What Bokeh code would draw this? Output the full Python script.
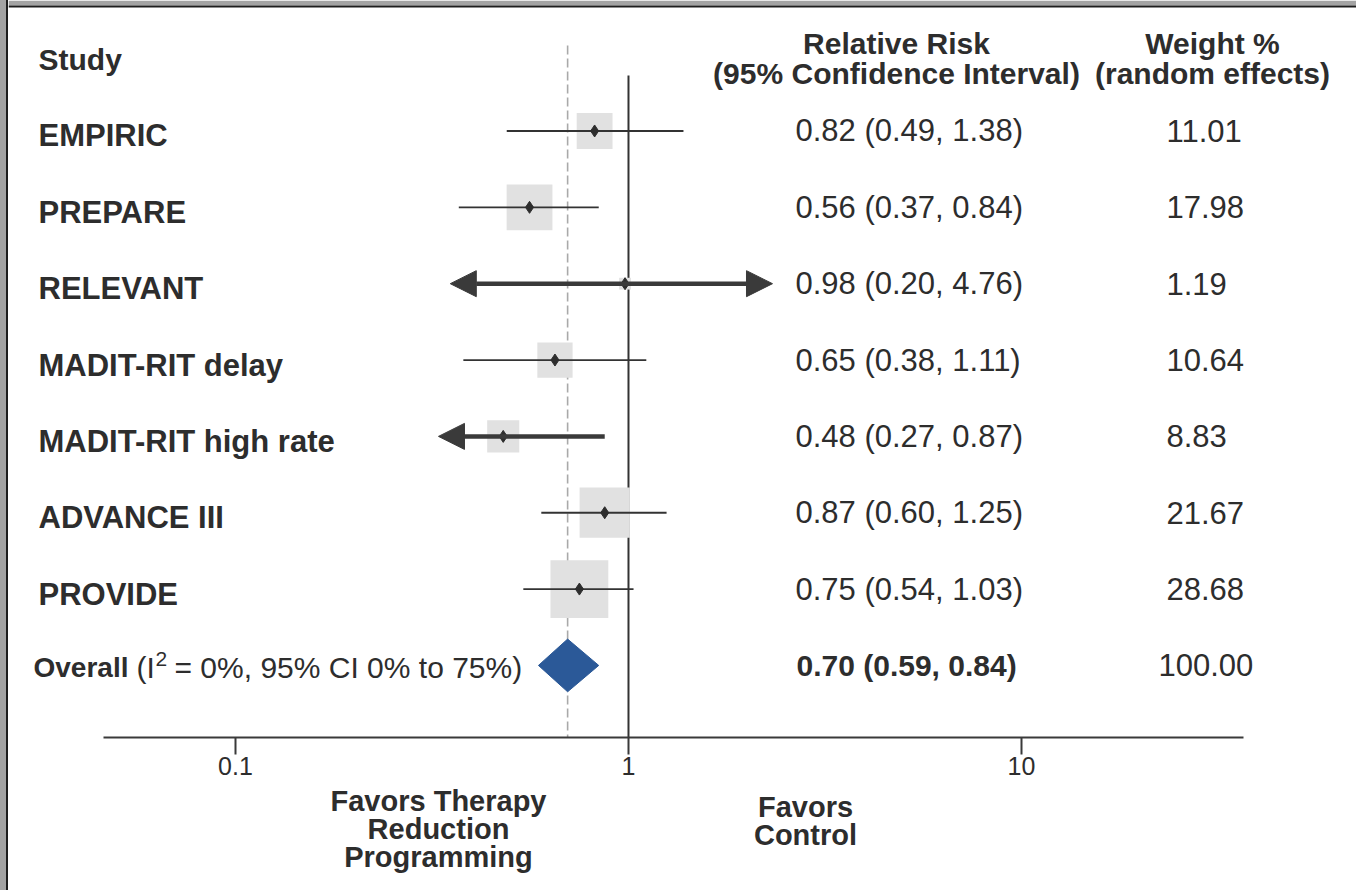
import numpy as np
from bokeh.plotting import figure
from bokeh.layouts import row, column
from bokeh.models import (Range1d, LinearScale, FixedTicker, CustomJSTickFormatter,
                          Arrow, NormalHead, BoxAnnotation, Div)
from bokeh.core.properties import value
from bokeh.embed import file_html
from bokeh.resources import INLINE

# ---------------- data ----------------
studies = ["EMPIRIC", "PREPARE", "RELEVANT", "MADIT-RIT delay",
           "MADIT-RIT high rate", "ADVANCE III", "PROVIDE"]
rr = [0.82, 0.56, 0.98, 0.65, 0.48, 0.87, 0.75]
ci_lo = [0.49, 0.37, 0.20, 0.38, 0.27, 0.60, 0.54]
ci_hi = [1.38, 0.84, 4.76, 1.11, 0.87, 1.25, 1.03]
weights = [11.01, 17.98, 1.19, 10.64, 8.83, 21.67, 28.68]
# drawn extent of each interval (arrow tips where the interval runs off the plotted scale)
shown_lo = [0.49, 0.37, 0.352, 0.38, 0.3285, 0.60, 0.54]
shown_hi = [1.38, 0.84, 2.325, 1.11, 0.87, 1.25, 1.03]

overall_rr = 0.70
overall_lo = 0.59
overall_hi = 0.84
overall_weight = 100.00
overall_name = "Overall"
overall_het = ["(I", "2", "= 0%, 95% CI 0% to 75%)"]

tick_values = [0.1, 1, 10]
axis_bounds = (0.0461, 36.7)
favors_left = ["Favors Therapy", "Reduction", "Programming"]
favors_right = ["Favors", "Control"]

FONT = "Liberation Sans"
INK = "#2d2d2d"

W = 1348          # figure width (page width minus the left frame strip)
FRAME_H = 737     # height of the plotting frame
AXIS_H = 46       # band holding the axis
TOP_H = FRAME_H + AXIS_H
BOT_H = 890 - TOP_H

# ---------------- main figure ----------------
p = figure(width=W, height=TOP_H, x_axis_type="log",
           x_range=Range1d(0.026447, 71.2), y_range=Range1d(8.944, -0.709),
           y_axis_location=None, toolbar_location=None, output_backend="svg",
           min_border_left=0, min_border_right=0, min_border_top=0,
           min_border_bottom=AXIS_H, outline_line_color=None,
           background_fill_color="white", border_fill_color="white", margin=0)
p.xgrid.visible = False
p.ygrid.visible = False
p.extra_x_ranges = {"col": Range1d(8, 1356)}
p.extra_x_scales = {"col": LinearScale()}
p.extra_y_ranges = {"py": Range1d(FRAME_H, 0)}
p.extra_y_scales = {"py": LinearScale()}

rows = list(range(1, len(studies) + 1))
orow = len(studies) + 1

# reference lines
p.segment(x0=[overall_rr], y0=[45], x1=[overall_rr], y1=[FRAME_H], y_range_name="py",
          line_color="#a9a9a9", line_width=1.6, line_dash="9 4")
p.segment(x0=[1], y0=[75], x1=[1], y1=[FRAME_H], y_range_name="py",
          line_color="#333333", line_width=2)

# weight squares
sizes = [10.8 * np.sqrt(w) for w in weights]
p.scatter(x=rr, y=rows, marker="square", size=sizes, fill_color="#e1e1e1",
          line_color=None)

# confidence intervals
normal = [i for i in range(len(studies)) if shown_lo[i] <= ci_lo[i] and shown_hi[i] >= ci_hi[i]]
p.segment(x0=[ci_lo[i] for i in normal], y0=[rows[i] for i in normal],
          x1=[ci_hi[i] for i in normal], y1=[rows[i] for i in normal],
          line_color="#333333", line_width=1.8)
for i in range(len(studies)):
    lo_cut = shown_lo[i] > ci_lo[i]
    hi_cut = shown_hi[i] < ci_hi[i]
    if lo_cut or hi_cut:
        head = lambda: NormalHead(size=26, fill_color="#3a3a3a", line_color="#3a3a3a")
        p.add_layout(Arrow(start=head() if lo_cut else None,
                           end=head() if hi_cut else None,
                           x_start=shown_lo[i], y_start=rows[i],
                           x_end=shown_hi[i], y_end=rows[i],
                           line_color="#3a3a3a", line_width=4.5))

# point estimates
p.scatter(x=rr, y=rows, marker="diamond", size=12, fill_color=INK, line_color=INK)

# overall diamond
h = 0.345
p.patch(x=[overall_lo, overall_rr, overall_hi, overall_rr],
        y=[orow, orow - h, orow, orow + h],
        fill_color="#2b5998", line_color="#2b5998")

# ---------------- text columns ----------------
common = dict(text_font=value(FONT), text_color=INK, text_baseline="middle",
              x_range_name="col")
p.text(x=[38] * len(studies), y=rows, text=studies, text_font_style="bold",
       text_font_size="31px", y_offset=5, **common)
rr_txt = [f"{a:.2f} ({b:.2f}, {c:.2f})" for a, b, c in zip(rr, ci_lo, ci_hi)]
p.text(x=[795] * len(studies), y=rows, text=rr_txt, text_font_size="31px", **common)
p.text(x=[1166] * len(studies), y=rows, text=[f"{w:.2f}" for w in weights],
       text_font_size="31px", **common)

# overall row
p.text(x=[33], y=[orow], text=[overall_name], text_font_style="bold",
       text_font_size="28px", y_offset=2, **common)
p.text(x=[136], y=[orow], text=[overall_het[0]], text_font_size="30px", y_offset=2, **common)
p.text(x=[155], y=[orow], text=[overall_het[1]], text_font_size="21px", y_offset=-6, **common)
p.text(x=[174], y=[orow], text=[overall_het[2]], text_font_size="30px", y_offset=2, **common)
p.text(x=[796], y=[orow], text=[f"{overall_rr:.2f} ({overall_lo:.2f}, {overall_hi:.2f})"],
       text_font_style="bold", text_font_size="30px", **common)
p.text(x=[1158], y=[orow], text=[f"{overall_weight:.2f}"], text_font_size="31px", **common)

# headers
hdr = dict(text_font=value(FONT), text_color=INK, text_baseline="middle",
           text_font_style="bold", text_font_size="30px",
           x_range_name="col", y_range_name="py")
p.text(x=[38], y=[59], text=["Study"], **hdr)
p.text(x=[896, 896], y=[43, 73], text=["Relative Risk", "(95% Confidence Interval)"],
       text_align="center", **hdr)
p.text(x=[1212, 1212], y=[43, 73], text=["Weight %", "(random effects)"],
       text_align="center", **hdr)

# ---------------- axis ----------------
ax = p.xaxis[0]
ax.ticker = FixedTicker(ticks=tick_values, minor_ticks=[])
ax.formatter = CustomJSTickFormatter(code="return tick.toString();")
ax.bounds = axis_bounds
ax.axis_line_width = 2
ax.axis_line_color = "#3a3a3a"
ax.major_tick_line_width = 2
ax.major_tick_line_color = "#3a3a3a"
ax.major_tick_out = 17
ax.major_tick_in = 0
ax.minor_tick_out = 0
ax.minor_tick_in = 0
ax.major_label_text_font = FONT
ax.major_label_text_font_size = "25px"
ax.major_label_text_color = INK
ax.major_label_standoff = 2

# top frame strip
for t, b, c in [(0, 5, "#a3a3a3"), (5, 7, "#1e1e1e")]:
    p.add_layout(BoxAnnotation(left=0, right=W, top=t, bottom=b,
                               left_units="canvas", right_units="canvas",
                               top_units="canvas", bottom_units="canvas",
                               fill_color=c, fill_alpha=1, line_color=None))

# ---------------- band below the axis ----------------
q = figure(width=W, height=BOT_H, x_range=Range1d(8, 1356), y_range=Range1d(890, TOP_H),
           x_axis_location=None, y_axis_location=None, toolbar_location=None,
           output_backend="svg", min_border_left=0, min_border_right=0,
           min_border_top=0, min_border_bottom=0, outline_line_color=None,
           background_fill_color="white", border_fill_color="white", margin=0)
q.xgrid.visible = False
q.ygrid.visible = False
fav = dict(text_font=value(FONT), text_color=INK, text_baseline="middle",
           text_font_style="bold", text_font_size="29px", text_align="center")
q.text(x=[438] * len(favors_left), y=[800, 828, 856], text=favors_left, **fav)
q.text(x=[805] * len(favors_right), y=[806, 834], text=favors_right, **fav)

# left frame strip
strip = Div(text="", width=8, height=890, margin=0,
            styles={"background": "linear-gradient(to right, #a3a3a3 0px, #a3a3a3 6px, #1e1e1e 6px, #1e1e1e 8px)"})

layout = row(strip, column(p, q, spacing=0), spacing=0)

open("out.html", "w").write(file_html(layout, INLINE))
